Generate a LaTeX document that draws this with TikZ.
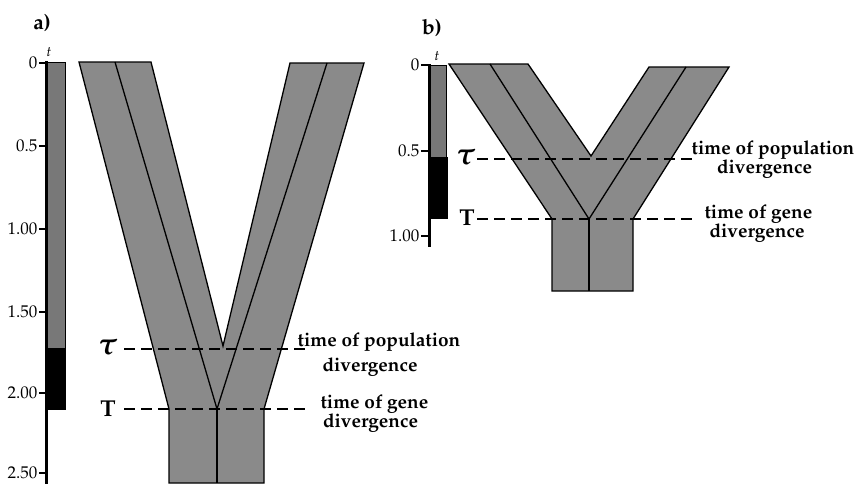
\documentclass[tikz,border=0pt]{standalone}
\usepackage[T1]{fontenc}
\usepackage{mathpazo}
\definecolor{treegray}{HTML}{8A8A8A}
\definecolor{bargray}{HTML}{787878}
\tikzset{
  treeshape/.style={fill=treegray, draw=black, line width=1.3pt, line join=miter},
  geneline/.style={draw=black, line width=1.3pt},
  axisline/.style={line width=3pt},
  tickline/.style={line width=1.5pt},
  barbox/.style={draw=black, line width=0.8pt},
  divline/.style={line width=1.6pt, dash pattern=on 11pt off 6pt},
  ticklab/.style={anchor=east, inner sep=0pt, font=\fontsize{17}{17}\selectfont},
  labtext/.style={anchor=base, inner sep=0pt, font=\fontsize{19}{19}\selectfont\bfseries},
  taulab/.style={inner sep=0pt, font=\fontsize{31}{31}\selectfont\boldmath},
  Tlab/.style={inner sep=0pt, font=\fontsize{23}{23}\selectfont\bfseries},
  tlab/.style={inner sep=0pt, font=\fontsize{14}{14}\selectfont\itshape},
  panellab/.style={inner sep=0pt, font=\fontsize{21}{21}\selectfont\bfseries}
}
\begin{document}
\begin{tikzpicture}[x=1pt,y=-1pt]
\useasboundingbox (0,0) rectangle (854,485);

% ---------------- panel a ----------------
\node[panellab] (pa) at (42,23) {a)};
% bar
\fill[bargray] (47,62) rectangle (65,348);
\draw[barbox] (47,62) rectangle (65,348);
\fill[black] (47,348) rectangle (66,410);
\draw[axisline] (46.5,61) -- (46.5,484);
\node[tlab] (ta) at (49,52) {t};
\foreach \yy/\lab/\nm in {63/0/a0, 146/0.5/a1, 229/1.00/a2, 312/1.50/a3, 393/2.00/a4, 473/2.50/a5}{
  \draw[tickline] (39,\yy) -- (46,\yy);
  \node[ticklab] (\nm) at (37.5,\yy) {\lab};
}
% tree
\draw[treeshape] (79,62) -- (151,62) -- (223,346) -- (290,63) -- (364,63) -- (264,409)
  -- (264,483) -- (169,483) -- (169,409) -- cycle;
\coordinate (ga1) at (115,62);
\coordinate (ga2) at (327,63);
\coordinate (gam) at (217,409);
\coordinate (gab) at (217,483);
\draw[geneline] (ga1) -- (gam) -- (ga2);
\draw[geneline] (gam) -- (gab);
% labels
\node[taulab] (taua) at (108,347) {$\tau$};
\node[Tlab] (Ta) at (108,409) {T};
\coordinate (taus) at (124,349);
\coordinate (taue) at (308,349);
\coordinate (Ts) at (124,409);
\coordinate (Te) at (308,409);
\draw[divline] (taus) -- (taue);
\draw[divline] (Ts) -- (Te);
\node[labtext] (pa1) at (379,346) {time of population};
\node[labtext] (pa2) at (370,371) {divergence};
\node[labtext] (ga1t) at (374.5,408) {time of gene};
\node[labtext] (ga2t) at (370.5,427) {divergence};

% ---------------- panel b ----------------
\node[panellab] (pb) at (432,28) {b)};
\fill[bargray] (429,65) rectangle (446,157);
\draw[barbox] (429,65) rectangle (446,157);
\fill[black] (429,157) rectangle (448,219);
\draw[axisline] (429,64) -- (429,247);
\node[tlab] (tb) at (437,56) {t};
\foreach \yy/\lab/\nm in {65/0/b0, 151/0.5/b1, 236/1.00/b2}{
  \draw[tickline] (421,\yy) -- (428,\yy);
  \node[ticklab] (\nm) at (419.5,\yy) {\lab};
}
\draw[treeshape] (449,64) -- (528,64) -- (591,156) -- (649,67) -- (729,67) -- (633,219)
  -- (633,291) -- (552,291) -- (552,219) -- cycle;
\coordinate (gb1) at (490,64);
\coordinate (gb2) at (686,67);
\coordinate (gbm) at (589,219);
\coordinate (gbb) at (589,291);
\draw[geneline] (gb1) -- (gbm) -- (gb2);
\draw[geneline] (gbm) -- (gbb);
\node[taulab] (taub) at (466,157) {$\tau$};
\node[Tlab] (Tb) at (467,218) {T};
\coordinate (taubs) at (477,159);
\coordinate (taube) at (694,159);
\coordinate (Tbs) at (477,219);
\coordinate (Tbe) at (694,219);
\draw[divline] (taubs) -- (taube);
\draw[divline] (Tbs) -- (Tbe);
\node[labtext] (pb1) at (773,154) {time of population};
\node[labtext] (pb2) at (764.5,173) {divergence};
\node[labtext] (gb1t) at (758.5,218) {time of gene};
\node[labtext] (gb2t) at (757,237) {divergence};
\end{tikzpicture}
\end{document}
